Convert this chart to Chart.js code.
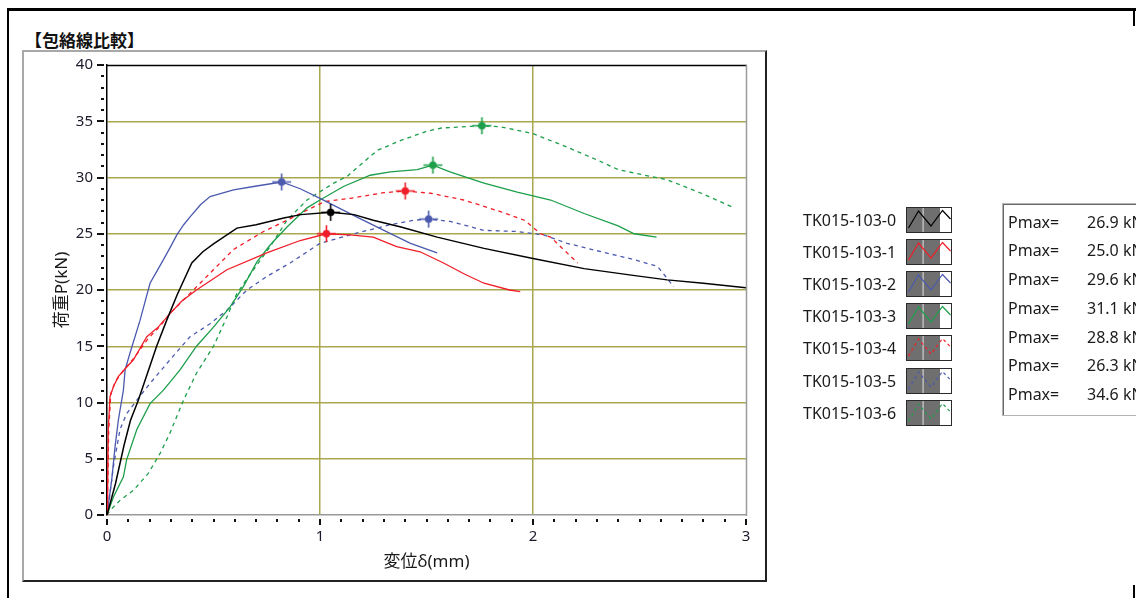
<!DOCTYPE html>
<html>
<head>
<meta charset="utf-8">
<script src="https://cdn.jsdelivr.net/npm/chart.js@4"></script>
<style>
  html, body { margin: 0; padding: 0; }
  body { width: 1136px; height: 598px; overflow: hidden; background: #fff; position: relative;
         font-family: 'Noto Sans', 'Noto Sans CJK JP', sans-serif; color: #1a1a1a; }
  .abs { position: absolute; }
  #frame { left: 7px; top: 8px; width: 1140px; height: 600px; border-top: 3px solid #000; border-left: 2px solid #000; }
  .rseg { width: 2px; background: #000; left: 1133px; }
  #panel { left: 22px; top: 50px; width: 741px; height: 528px;
           border-top: 2px solid #a8a8a8; border-left: 2px solid #a8a8a8;
           border-right: 2px solid #222; border-bottom: 2px solid #222; }
  #title { left: 25px; top: 29px; font: bold 17px/22px 'Noto Sans CJK JP', sans-serif; color: #111; white-space: nowrap; }
  #chart { left: 0; top: 0; }
  .lg-label { left: 803px; font-size: 16px; line-height: 20px; white-space: nowrap; }
  .lg-swatch { left: 906px; }
  #pbox { left: 1002px; top: 203px; width: 200px; height: 211px; border: 1px solid #b4b4b4;
          box-shadow: inset 1px 1px 0 #6a6a6a; }
  .pm-label { left: 1008px; font-size: 16px; line-height: 20px; white-space: nowrap; }
  .pm-value { left: 1087px; font-size: 16px; line-height: 20px; white-space: nowrap; }
</style>
</head>
<body>
<div id="frame" class="abs"></div>
<div class="abs rseg" style="top:8px;height:18px"></div>
<div class="abs rseg" style="top:585px;height:13px"></div>
<div id="panel" class="abs"></div>
<div id="title" class="abs">【包絡線比較】</div>
<div id="pbox" class="abs"></div>
<canvas id="chart" class="abs" width="1136" height="598"></canvas>
<script>
// Specimen names, line colours and styles
const seriesNames = ['TK015-103-0', 'TK015-103-1', 'TK015-103-2', 'TK015-103-3', 'TK015-103-4', 'TK015-103-5', 'TK015-103-6'];
const seriesColors = ['#000000', '#f01e28', '#4b5aae', '#1c9e4a', '#f01e28', '#4b5aae', '#1c9e4a'];
const seriesDashed = [false, false, false, false, true, true, true];

// Maximum load (kN) and the displacement (mm) where it occurs
const pmaxValues = [26.9, 25.0, 29.6, 31.1, 28.8, 26.3, 34.6];
const pmaxDisp = [1.05, 1.03, 0.82, 1.53, 1.40, 1.51, 1.76];

// Axis tick labels
const xTickLabels = [0, 1, 2, 3];
const yTickLabels = [0, 5, 10, 15, 20, 25, 30, 35, 40];

// Envelope curves: [displacement δ (mm), load P (kN)]
const curve0 = [[0,0],[0.04,2.8],[0.08,6.2],[0.11,8.4],[0.147,10.2],[0.19,12.6],[0.233,15.0],[0.28,17.3],[0.33,19.6],[0.398,22.4],[0.45,23.4],[0.5,24.1],[0.61,25.5],[0.7,25.8],[0.83,26.4],[0.91,26.7],[1.05,26.9],[1.16,26.7],[1.25,26.2],[1.38,25.6],[1.55,24.7],[1.77,23.7],[2.0,22.8],[2.24,21.9],[2.47,21.3],[2.63,20.9],[2.8,20.6],[3.0,20.2]];
const curve1 = [[0,0],[0.003,2.5],[0.006,7.6],[0.014,10.5],[0.03,11.4],[0.053,12.3],[0.085,13.0],[0.124,13.8],[0.187,15.85],[0.24,16.7],[0.296,17.9],[0.35,19.0],[0.42,20.0],[0.563,21.8],[0.75,23.3],[0.907,24.4],[1.03,25.0],[1.14,24.9],[1.25,24.7],[1.36,23.85],[1.47,23.4],[1.58,22.4],[1.68,21.4],[1.77,20.6],[1.89,20.0],[1.94,19.85]];
const curve2 = [[0,0],[0.022,3.1],[0.038,6.1],[0.053,8.4],[0.077,11.1],[0.085,12.9],[0.108,14.4],[0.155,17.3],[0.202,20.6],[0.235,21.7],[0.265,22.7],[0.3,23.9],[0.328,24.9],[0.36,25.8],[0.39,26.5],[0.44,27.6],[0.484,28.3],[0.594,28.9],[0.688,29.2],[0.82,29.6],[0.907,29.0],[1.0,28.15],[1.15,26.7],[1.3,25.3],[1.425,24.15],[1.55,23.3]];
const curve3 = [[0,0],[0.03,1.6],[0.077,3.4],[0.092,4.9],[0.14,7.6],[0.202,9.9],[0.265,11.1],[0.343,12.9],[0.42,15.0],[0.5,16.7],[0.578,18.5],[0.64,20.3],[0.704,22.5],[0.766,24.0],[0.845,25.6],[0.939,27.3],[1.0,28.0],[1.11,29.2],[1.236,30.2],[1.33,30.5],[1.456,30.7],[1.53,31.1],[1.61,30.5],[1.77,29.5],[1.926,28.7],[2.083,28.0],[2.24,26.8],[2.4,25.7],[2.475,25.0],[2.58,24.7]];
const curve4 = [[0,0],[0.004,3.0],[0.008,7.5],[0.018,10.8],[0.04,11.9],[0.08,12.9],[0.124,13.9],[0.194,15.7],[0.25,16.8],[0.3,18.0],[0.39,19.7],[0.484,21.5],[0.594,23.6],[0.735,25.2],[0.845,26.2],[0.939,27.1],[1.02,27.85],[1.142,28.15],[1.3,28.65],[1.4,28.8],[1.52,28.6],[1.675,28.0],[1.85,26.95],[1.96,26.2],[2.036,25.0],[2.083,24.7],[2.16,23.3],[2.21,22.4]];
const curve5 = [[0,0],[0.014,1.9],[0.03,4.3],[0.061,7.6],[0.092,9.0],[0.14,10.2],[0.202,11.7],[0.296,13.8],[0.39,15.85],[0.484,17.0],[0.563,18.2],[0.657,20.0],[0.75,21.2],[0.86,22.4],[1.0,24.15],[1.16,25.0],[1.33,25.8],[1.44,26.2],[1.51,26.3],[1.61,26.1],[1.77,25.3],[1.926,25.2],[2.05,24.9],[2.16,24.15],[2.32,23.4],[2.475,22.7],[2.584,22.1],[2.623,21.2],[2.66,20.3]];
const curve6 = [[0,0],[0.014,0.4],[0.061,1.3],[0.124,2.2],[0.194,3.7],[0.25,5.5],[0.296,7.3],[0.359,10.2],[0.42,12.6],[0.5,15.0],[0.563,17.6],[0.61,19.7],[0.68,21.6],[0.766,23.85],[0.845,26.2],[0.939,28.0],[1.064,29.5],[1.127,30.1],[1.268,32.4],[1.38,33.3],[1.5,34.1],[1.57,34.4],[1.76,34.6],[1.85,34.5],[2.0,33.9],[2.16,32.7],[2.32,31.4],[2.4,30.7],[2.55,30.1],[2.63,29.8],[2.79,28.6],[2.945,27.3]];
const curves = [curve0, curve1, curve2, curve3, curve4, curve5, curve6];

const FONT = "'Noto Sans', 'Noto Sans CJK JP', sans-serif";
const GRID = '#a9a84e';
const near = (v, list) => list.some(t => Math.abs(v - t) < 1e-6);

// Peak marker: filled dot with cross hairs
function peakMarker(color) {
  const c = document.createElement('canvas');
  c.width = 21; c.height = 19;
  const g = c.getContext('2d');
  g.strokeStyle = color; g.lineWidth = 1.6;
  g.beginPath();
  g.moveTo(1, 9.5); g.lineTo(20, 9.5);
  g.moveTo(10.5, 1); g.lineTo(10.5, 18);
  g.stroke();
  g.fillStyle = color;
  g.beginPath(); g.arc(10.5, 9.5, 3.8, 0, Math.PI * 2); g.fill();
  return c;
}
const markerImages = seriesColors.map(peakMarker);

const datasets = curves.map((pts, i) => ({
  label: seriesNames[i],
  data: pts.map(([x, y]) => ({ x, y })),
  borderColor: seriesColors[i],
  borderWidth: i === 0 ? 1.5 : 1.3,
  borderDash: seriesDashed[i] ? [4, 4] : [],
  pointRadius: 0,
  fill: false,
  tension: 0,
  order: 2
}));
datasets.push({
  label: 'Pmax',
  type: 'scatter',
  data: pmaxValues.map((p, i) => ({ x: pmaxDisp[i], y: p })),
  pointStyle: ctx => markerImages[ctx.dataIndex],
  pointRadius: 6,
  showLine: false,
  order: 1
});

// Plot frame and tick marks (major/minor) drawn from the scales
const framePlugin = {
  id: 'frame',
  afterDraw(chart) {
    const { ctx, chartArea: a, scales: { x, y } } = chart;
    ctx.save();
    ctx.lineWidth = 1.5;
    ctx.strokeStyle = '#000';
    ctx.beginPath(); ctx.moveTo(a.left, a.top + 0.5); ctx.lineTo(a.right + 1, a.top + 0.5); ctx.stroke();
    ctx.strokeStyle = '#9a9a9a';
    ctx.beginPath(); ctx.moveTo(a.right + 0.5, a.top); ctx.lineTo(a.right + 0.5, a.bottom + 1); ctx.stroke();
    ctx.strokeStyle = '#111';
    ctx.lineWidth = 2;
    ctx.beginPath();
    y.ticks.forEach(t => {
      const py = Math.round(y.getPixelForValue(t.value));
      const major = near(t.value, yTickLabels);
      ctx.moveTo(a.left - (major ? 10 : 6), py); ctx.lineTo(a.left - 3, py);
    });
    x.ticks.forEach(t => {
      const px = Math.round(x.getPixelForValue(t.value));
      const major = near(t.value, xTickLabels);
      ctx.moveTo(px, a.bottom + 4); ctx.lineTo(px, a.bottom + (major ? 10 : 7));
    });
    ctx.stroke();
    ctx.restore();
  }
};

new Chart(document.getElementById('chart'), {
  type: 'line',
  data: { datasets },
  plugins: [framePlugin],
  options: {
    responsive: false,
    animation: false,
    devicePixelRatio: 1,
    layout: { padding: { left: 47, right: 390, top: 65, bottom: 13 } },
    plugins: { legend: { display: false }, tooltip: { enabled: false } },
    scales: {
      x: {
        type: 'linear', min: 0, max: 3,
        afterFit(s) { s.height = 70; s.paddingLeft = 0; s.paddingRight = 0; },
        ticks: {
          stepSize: 0.1, autoSkip: false, maxRotation: 0, padding: 13,
          color: '#1a1a2a', font: { family: FONT, size: 15 },
          callback: v => near(v, xTickLabels) ? String(Math.round(v)) : ''
        },
        grid: {
          drawTicks: false, lineWidth: 1.5,
          color: c => (c.tick && near(c.tick.value, [1, 2])) ? GRID : 'rgba(0,0,0,0)'
        },
        border: { color: '#9a9a9a', width: 1.5 },
        title: { display: true, text: '変位δ(mm)', color: '#1a1a1a', font: { family: FONT, size: 17 }, padding: { top: 0, bottom: 13 } }
      },
      y: {
        type: 'linear', min: 0, max: 40,
        afterFit(s) { s.width = 60; s.paddingTop = 0; s.paddingBottom = 0; },
        ticks: {
          stepSize: 1, autoSkip: false, padding: 14,
          color: '#1a1a2a', font: { family: FONT, size: 15 },
          callback: v => near(v, yTickLabels) ? String(Math.round(v)) : ''
        },
        grid: {
          drawTicks: false, lineWidth: 1.5,
          color: c => (c.tick && c.tick.value > 0 && c.tick.value < 40 && near(c.tick.value, yTickLabels)) ? GRID : 'rgba(0,0,0,0)'
        },
        border: { color: '#000', width: 1.5 },
        title: { display: true, text: '荷重P(kN)', color: '#1a1a1a', font: { family: FONT, size: 17 }, padding: { top: 5, bottom: 0 } }
      }
    }
  }
});

// Legend rows with line-style swatches, and the Pmax summary box
function swatch(color, dashed) {
  const c = document.createElement('canvas');
  c.width = 46; c.height = 26;
  c.className = 'abs lg-swatch';
  const g = c.getContext('2d');
  g.fillStyle = '#fff'; g.fillRect(0, 0, 46, 26);
  g.fillStyle = '#6f6f6f'; g.fillRect(0, 0, 34, 26);
  g.fillStyle = '#cfcfcf'; g.fillRect(16.5, 0, 1.2, 26);
  g.strokeStyle = '#2a2a2a'; g.lineWidth = 1; g.strokeRect(0.5, 0.5, 45, 25);
  g.strokeStyle = color; g.lineWidth = 1.2;
  g.setLineDash(dashed ? [3, 3] : []);
  g.beginPath();
  g.moveTo(2.5, 21); g.lineTo(12.5, 4); g.lineTo(25, 19); g.lineTo(36.5, 3.5); g.lineTo(44.5, 12);
  g.stroke();
  return c;
}
seriesNames.forEach((name, i) => {
  const cy = 220 + i * 32.1;
  const lab = document.createElement('div');
  lab.className = 'abs lg-label';
  lab.style.top = (cy - 10) + 'px';
  lab.textContent = name;
  document.body.appendChild(lab);
  const sw = swatch(seriesColors[i], seriesDashed[i]);
  sw.style.top = Math.round(cy - 13) + 'px';
  document.body.appendChild(sw);

  const py = 221.7 + i * 28.7;
  const pl = document.createElement('div');
  pl.className = 'abs pm-label';
  pl.style.top = (py - 10) + 'px';
  pl.textContent = 'Pmax=';
  document.body.appendChild(pl);
  const pv = document.createElement('div');
  pv.className = 'abs pm-value';
  pv.style.top = (py - 10) + 'px';
  pv.textContent = pmaxValues[i].toFixed(1) + ' kN';
  document.body.appendChild(pv);
});
</script>
</body>
</html>
